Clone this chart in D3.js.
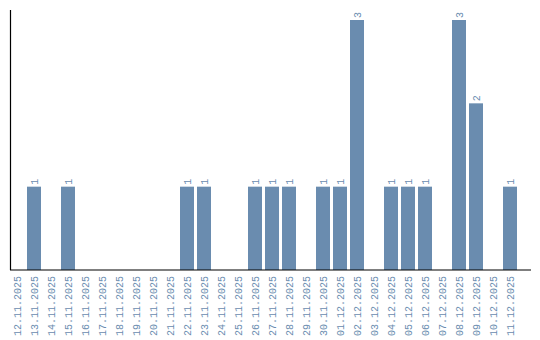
<!DOCTYPE html>
<html>
<head>
<meta charset="utf-8">
<script src="https://cdn.jsdelivr.net/npm/d3@7"></script>
<style>
  body { margin: 0; background: #fff; }
  text { font-family: "Liberation Mono", "DejaVu Sans Mono", monospace; }
</style>
</head>
<body>
<svg width="540" height="340"></svg>
<script>
const dates = ['12.11.2025', '13.11.2025', '14.11.2025', '15.11.2025', '16.11.2025', '17.11.2025',
  '18.11.2025', '19.11.2025', '20.11.2025', '21.11.2025', '22.11.2025', '23.11.2025', '24.11.2025',
  '25.11.2025', '26.11.2025', '27.11.2025', '28.11.2025', '29.11.2025', '30.11.2025', '01.12.2025',
  '02.12.2025', '03.12.2025', '04.12.2025', '05.12.2025', '06.12.2025', '07.12.2025', '08.12.2025',
  '09.12.2025', '10.12.2025', '11.12.2025'];
const counts = [0, 1, 0, 1, 0, 0, 0, 0, 0, 0, 1, 1, 0, 0, 1, 1, 1, 0, 1, 1, 3, 0, 1, 1, 1, 0, 3, 2, 0, 1];

const COLOR = '#6a8caf';
const svg = d3.select('svg');
const margin = { left: 10, bottom: 270, top: 20 };

// 17px per day, 14px bar, 3px gap
const x = d3.scaleBand().domain(dates).range([margin.left, margin.left + 17 * dates.length - 3])
  .paddingInner(3 / 17).paddingOuter(0);
const y = d3.scaleLinear().domain([0, 3]).range([margin.bottom, margin.top]);

const g = svg.append('g');
const rows = dates.map((d, i) => ({ d, v: counts[i] })).filter(e => e.v > 0);

// bars
g.selectAll('rect.bar')
  .data(rows)
  .join('rect')
  .attr('class', 'bar')
  .attr('x', e => x(e.d))
  .attr('y', e => y(e.v))
  .attr('width', x.bandwidth())
  .attr('height', e => y(0) - y(e.v))
  .attr('fill', COLOR);

// value labels
g.selectAll('text.val')
  .data(rows)
  .join('text')
  .attr('class', 'val')
  .attr('transform', e => `translate(${x(e.d) + x.bandwidth() / 2 + 3.5},${y(e.v) - 2}) rotate(-90)`)
  .attr('font-size', 10)
  .attr('fill', COLOR)
  .text(e => e.v);

// x axis
const xAxis = g.append('g')
  .attr('transform', `translate(0,${margin.bottom})`)
  .call(d3.axisBottom(x).tickSize(0).tickPadding(0));
xAxis.select('.domain').remove();
xAxis.selectAll('text')
  .attr('fill', COLOR)
  .attr('font-size', 10)
  .attr('text-anchor', 'end')
  .attr('transform', 'rotate(-90)')
  .attr('x', -6)
  .attr('y', 0)
  .attr('dy', '0.35em');

// axis lines
g.append('line').attr('x1', margin.left).attr('x2', 531).attr('y1', margin.bottom).attr('y2', margin.bottom)
  .attr('stroke', '#000').attr('stroke-width', 1.2);
g.append('line').attr('x1', margin.left + 0.5).attr('x2', margin.left + 0.5).attr('y1', 10).attr('y2', margin.bottom)
  .attr('stroke', '#000').attr('stroke-width', 1.2);
</script>
</body>
</html>
